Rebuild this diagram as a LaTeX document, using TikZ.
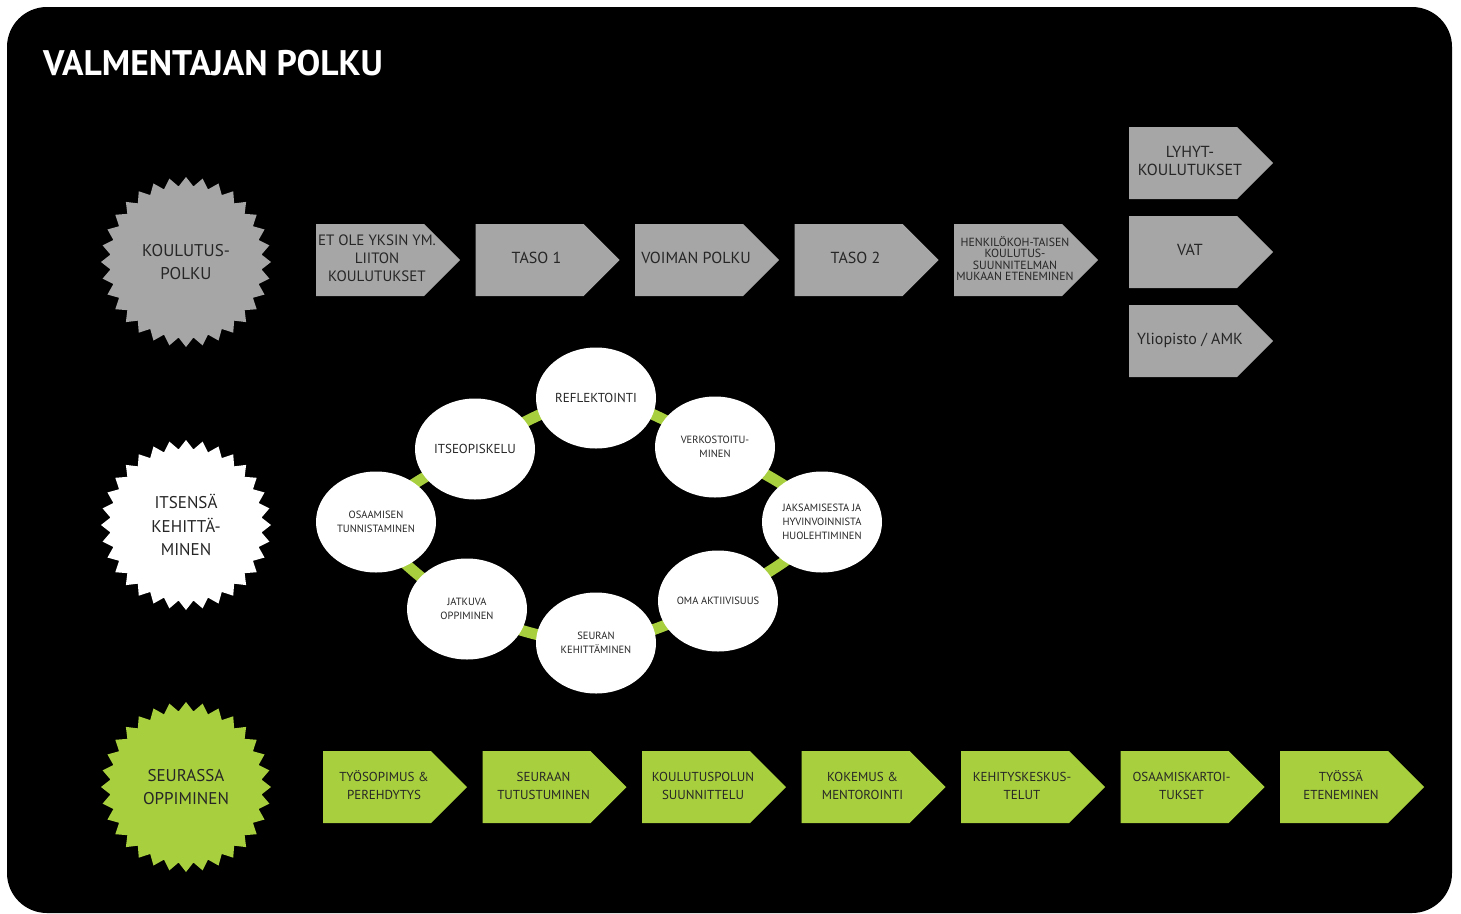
\documentclass[tikz,border=0pt]{standalone}
\usepackage{fontspec}
\setmainfont{PT Sans}
\usepackage{tikz}
\usetikzlibrary{shapes.symbols,shapes.geometric,backgrounds,positioning}

\definecolor{burstgray}{HTML}{A6A6A6}
\definecolor{leafgreen}{HTML}{A8CF3E}

% text of an arrow, set a little to the right of the body's middle
\newcommand{\chevtext}[1]{\hbox to 0pt{\hss\hspace*{14pt}\begin{tabular}{@{}c@{}}#1\end{tabular}\hss}}

\begin{document}
\begin{tikzpicture}[x=1pt,y=-1pt,node distance=159.5pt,
  arrow node/.style={signal,signal to=east,signal pointer angle=90,fill=burstgray,
    minimum width=144pt,minimum height=72pt,inner sep=0pt,
    text=black!85,font=\fontsize{16}{18}\selectfont},
  green node/.style={arrow node,fill=leafgreen,font=\fontsize{13}{18}\selectfont},
  burst node/.style={star,star points=32,star point ratio=1.12,minimum size=170pt,
    inner sep=0pt,align=center,text=black!85,font=\fontsize{17}{23.5}\selectfont},
  spot node/.style={ellipse,fill=white,minimum width=120pt,minimum height=101pt,
    inner sep=0pt,align=center,text=black!85,font=\fontsize{10.5}{14}\selectfont},
  ringline/.style={line width=11pt,leafgreen}]

  \useasboundingbox (0,0) rectangle (1461,913);

  \node[anchor=base west,inner sep=0pt,text=white,font=\bfseries\fontsize{35.5}{40}\selectfont] (title) at (43,75) {VALMENTAJAN POLKU};

  % the three paths
  \node[burst node,fill=burstgray] (s1) at (186,262) {KOULUTUS-\\POLKU};
  \node[burst node,fill=white] (s2) at (186,525) {ITSENSÄ\\KEHITTÄ-\\MINEN};
  \node[burst node,fill=leafgreen] (s3) at (186,787) {SEURASSA\\OPPIMINEN};

  % koulutuspolku
  \node[arrow node,font=\fontsize{15}{18}\selectfont] (a1) at (370,260) {\chevtext{ET OLE YKSIN YM.\\LIITON\\KOULUTUKSET}};
  \node[arrow node] (a2) [right of=a1] {\chevtext{TASO 1}};
  \node[arrow node] (a3) [right of=a2] {\chevtext{VOIMAN POLKU}};
  \node[arrow node] (a4) [right of=a3] {\chevtext{TASO 2}};
  \node[arrow node,font=\fontsize{11.8}{10}\selectfont] (a5) [right of=a4] {\chevtext{HENKILÖKOH-TAISEN\\KOULUTUS-\\SUUNNITELMAN\\MUKAAN ETENEMINEN}};

  \node[arrow node] (b1) at (1183,163) {\chevtext{LYHYT-\\KOULUTUKSET}};
  \node[arrow node] (b2) [below of=b1,node distance=89pt] {\chevtext{VAT}};
  \node[arrow node] (b3) [below of=b2,node distance=89pt] {\chevtext{Yliopisto / AMK}};

  % itsensä kehittäminen
  \node[spot node,font=\fontsize{13}{14}\selectfont] (c1) at (596,398) {REFLEKTOINTI};
  \node[spot node] (c2) at (715,447) {VERKOSTOITU-\\MINEN};
  \node[spot node] (c3) at (822,522) {JAKSAMISESTA JA\\HYVINVOINNISTA\\HUOLEHTIMINEN};
  \node[spot node] (c4) at (718,601) {OMA AKTIIVISUUS};
  \node[spot node] (c5) at (596,643) {SEURAN\\KEHITTÄMINEN};
  \node[spot node] (c6) at (467,609) {JATKUVA\\OPPIMINEN};
  \node[spot node] (c7) at (376,522) {OSAAMISEN\\TUNNISTAMINEN};
  \node[spot node,font=\fontsize{13}{14}\selectfont] (c8) at (475,449) {ITSEOPISKELU};

  % seurassa oppiminen
  \node[green node] (d1) at (377,787) {\chevtext{TYÖSOPIMUS \&\\PEREHDYTYS}};
  \node[green node] (d2) [right of=d1] {\chevtext{SEURAAN\\TUTUSTUMINEN}};
  \node[green node] (d3) [right of=d2] {\chevtext{KOULUTUSPOLUN\\SUUNNITTELU}};
  \node[green node] (d4) [right of=d3] {\chevtext{KOKEMUS \&\\MENTOROINTI}};
  \node[green node] (d5) [right of=d4] {\chevtext{KEHITYSKESKUS-\\TELUT}};
  \node[green node] (d6) [right of=d5] {\chevtext{OSAAMISKARTOI-\\TUKSET}};
  \node[green node] (d7) [right of=d6] {\chevtext{TYÖSSÄ\\ETENEMINEN}};

  \begin{scope}[on background layer]
    \fill[black,rounded corners=40pt] (7,7) rectangle (1452,913);
    \draw[ringline] plot[smooth cycle] coordinates {(c1) (c2) (c3) (c4) (c5) (c6) (c7) (c8)};
  \end{scope}
\end{tikzpicture}
\end{document}
